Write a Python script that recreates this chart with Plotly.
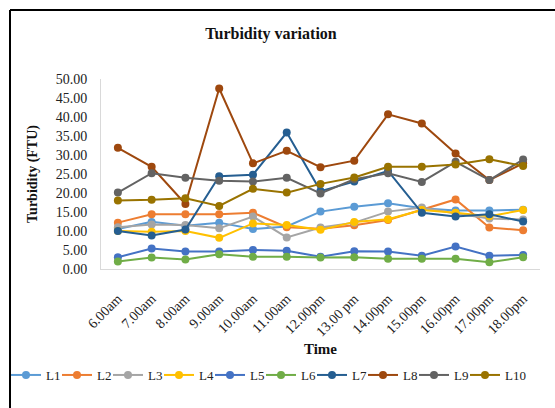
import plotly.graph_objects as go

times = ["6.00am", "7.00am", "8.00am", "9.00am", "10.00am", "11.00am", "12.00pm",
         "13.00 pm", "14.00pm", "15.00pm", "16.00pm", "17.00pm", "18.00pm"]

L1 = [10.5, 12.4, 11.4, 12.2, 10.5, 11.2, 15.1, 16.4, 17.3, 16.0, 15.4, 15.4, 15.6]
L2 = [12.2, 14.4, 14.4, 14.4, 14.8, 11.0, 10.6, 11.5, 12.9, 15.5, 18.3, 10.9, 10.2]
L3 = [11.0, 11.7, 11.6, 10.7, 13.8, 8.3, 10.9, 12.2, 15.1, 16.2, 14.6, 13.3, 13.0]
L4 = [10.0, 9.8, 10.0, 8.2, 12.0, 11.6, 10.3, 12.4, 13.1, 15.5, 14.8, 13.9, 15.5]
L5 = [3.1, 5.4, 4.6, 4.6, 5.0, 4.8, 3.2, 4.7, 4.6, 3.5, 5.9, 3.5, 3.7]
L6 = [2.0, 3.0, 2.5, 3.9, 3.2, 3.2, 3.0, 3.1, 2.7, 2.7, 2.7, 1.8, 3.1]
L7 = [10.0, 8.8, 10.4, 24.4, 24.8, 35.9, 20.5, 23.0, 25.8, 14.8, 13.8, 14.4, 12.5]
L8 = [31.9, 26.9, 17.1, 47.5, 27.8, 31.1, 26.8, 28.5, 40.7, 38.3, 30.4, 23.4, 27.8]
L9 = [20.1, 25.2, 24.0, 23.2, 23.0, 24.0, 19.9, 23.6, 25.2, 22.9, 28.2, 23.4, 28.8]
L10 = [18.0, 18.2, 18.6, 16.6, 21.1, 20.1, 22.4, 24.1, 26.9, 26.9, 27.5, 28.9, 27.1]

names = ["L1", "L2", "L3", "L4", "L5", "L6", "L7", "L8", "L9", "L10"]
series = [L1, L2, L3, L4, L5, L6, L7, L8, L9, L10]
colors = ["#5B9BD5", "#ED7D31", "#A5A5A5", "#FFC000", "#4472C4",
          "#70AD47", "#255E91", "#9E480E", "#636363", "#997300"]

fig = go.Figure()
for n, s, c in zip(names, series, colors):
    fig.add_trace(go.Scatter(x=times, y=s, name=n, mode="lines+markers",
                             line=dict(color=c, width=2),
                             marker=dict(color=c, size=8),
                             legendwidth=24 if n == "L10" else 6))

serif = "Liberation Serif"
L, R, T, B = 101, 15, 79, 139
W, H = 555, 408
pw, ph = W - L - R, H - T - B

def px_x(x):
    return (x - L) / pw

def px_y(y):
    return (H - B - y) / ph

fig.update_layout(
    width=W, height=H,
    paper_bgcolor="white", plot_bgcolor="white",
    margin=dict(l=L, r=R, t=T, b=B, autoexpand=False),
    font=dict(family=serif, color="#222222", size=14),
    title=dict(text="<b>Turbidity variation</b>", x=271 / W, xanchor="center",
               y=1 - 33 / H, yanchor="middle",
               font=dict(family=serif, size=16, color="#111111")),
    showlegend=True,
    legend=dict(orientation="h", x=px_x(6), xanchor="left", y=px_y(375), yanchor="middle",
                font=dict(family=serif, size=13, color="#222222"),
                itemwidth=30, entrywidthmode="pixels",
                tracegroupgap=0, bgcolor="rgba(0,0,0,0)"),
    xaxis=dict(type="category", tickangle=-45, showgrid=False, range=[-0.5, 12.5],
               showline=True, linecolor="#D9D9D9", linewidth=1,
               ticks="", ticklabelstandoff=15,
               tickfont=dict(family=serif, size=14, color="#222222"),
               title=dict(text="<b>Time</b>", font=dict(family=serif, size=15, color="#111111"),
                          standoff=5)),
    yaxis=dict(range=[0, 50], dtick=5, tickformat=".2f", showgrid=False,
               zeroline=False, showline=True, linecolor="#D9D9D9", linewidth=1,
               ticks="", ticklabelstandoff=10,
               tickfont=dict(family=serif, size=14, color="#222222"),
               title=dict(text="<b>Turbidity (FTU)</b>",
                          font=dict(family=serif, size=14, color="#111111"), standoff=14)),
    shapes=[
        dict(type="line", xref="paper", yref="paper", x0=px_x(10), x1=px_x(600),
             y0=px_y(10), y1=px_y(10), line=dict(color="black", width=2)),
        dict(type="line", xref="paper", yref="paper", x0=px_x(10), x1=px_x(10),
             y0=px_y(10), y1=px_y(450), line=dict(color="black", width=2)),
    ],
)

fig.write_html("out.html", config={"displayModeBar": False},
               post_script="document.body.style.margin='0';")
